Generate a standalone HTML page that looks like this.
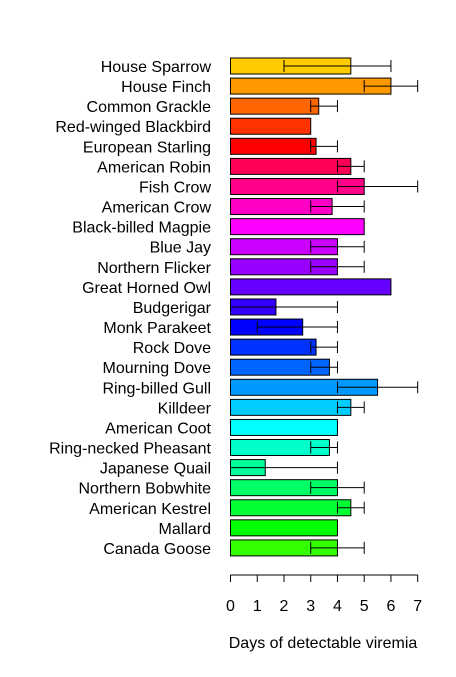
<!DOCTYPE html>
<html><head><meta charset="utf-8"><style>
html,body{margin:0;padding:0;background:#fff}
svg text{font-family:"Liberation Sans",sans-serif;font-size:16px;fill:#000}
</style></head><body>
<svg id="chart" width="456" height="672"></svg>
<script>
const categories=["House Sparrow","House Finch","Common Grackle","Red-winged Blackbird","European Starling","American Robin","Fish Crow","American Crow","Black-billed Magpie","Blue Jay","Northern Flicker","Great Horned Owl","Budgerigar","Monk Parakeet","Rock Dove","Mourning Dove","Ring-billed Gull","Killdeer","American Coot","Ring-necked Pheasant","Japanese Quail","Northern Bobwhite","American Kestrel","Mallard","Canada Goose"];
const values=[4.5,6,3.3,3,3.2,4.5,5,3.8,5,4,4,6,1.7,2.7,3.2,3.7,5.5,4.5,4,3.7,1.3,4,4.5,4,4];
const errLow=[2,5,3,null,3,4,4,3,null,3,3,null,0,1,3,3,4,4,null,3,0,3,4,null,3];
const errHigh=[6,7,4,null,4,5,7,5,null,5,5,null,4,4,4,4,7,5,null,4,4,5,5,null,5];
const ticks=[0,1,2,3,4,5,6,7];
const colors=["#FFCC00","#FF9900","#FF6600","#FF3300","#FF0000","#FF0055","#FF0088","#FF00C4","#FF00FF","#CC00FF","#9900FF","#6600FF","#3300FF","#0000FF","#0033FF","#0066FF","#0099FF","#00CCFF","#00FFFF","#00FFCC","#00FF99","#00FF66","#00FF33","#00FF00","#33FF00"];
const svg=document.getElementById('chart');
const NS='http://www.w3.org/2000/svg';
const x0=230.5,unit=26.74;
const xs=v=>x0+v*unit;
const yc=i=>66+i*20.08;
function mk(t,a){const e=document.createElementNS(NS,t);for(const k in a)e.setAttribute(k,a[k]);svg.appendChild(e);return e;}
categories.forEach((c,i)=>{
  const r=mk('rect',{x:xs(0),y:yc(i)-8,width:xs(values[i])-xs(0),height:16,fill:colors[i],stroke:'#000','stroke-width':1});
  
  
  const t=mk('text',{x:211,y:yc(i)+6,'text-anchor':'end'});t.textContent=c;
  
  
  if(errLow[i]!==null){
    const g=mk('path',{d:`M${xs(errLow[i])},${yc(i)}H${xs(errHigh[i])}M${xs(errLow[i])},${yc(i)-6}v12M${xs(errHigh[i])},${yc(i)-6}v12`,stroke:'#000','stroke-width':1,fill:'none'});
    
    
  }
});
const ax=mk('path',{d:`M${xs(0)},575H${xs(7)}`+ticks.map(v=>`M${xs(v)},575v7`).join(''),stroke:'#000','stroke-width':1,fill:'none'});


ticks.forEach(v=>{const t=mk('text',{x:xs(v),y:611,'text-anchor':'middle'});t.textContent=v;

});
const tt=mk('text',{x:323,y:648,'text-anchor':'middle'});tt.textContent='Days of detectable viremia';


</script>
</body></html>
